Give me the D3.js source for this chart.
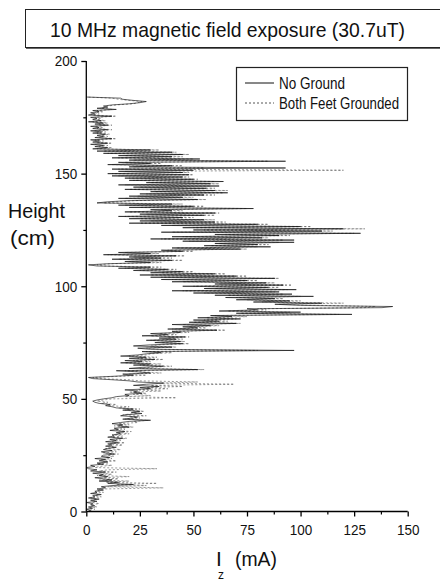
<!DOCTYPE html>
<html>
<head>
<meta charset="utf-8">
<script src="https://cdn.jsdelivr.net/npm/d3@7/dist/d3.min.js"></script>
<style>
  html, body { margin: 0; padding: 0; background: #fff; }
  svg { display: block; }
  text { font-family: "Liberation Sans", Arial, sans-serif; fill: #111; }
</style>
</head>
<body>
<svg id="chart" width="440" height="582"></svg>
<script>
// ---------------- DATA ----------------
const title = "10 MHz magnetic field exposure (30.7uT)";
const seriesNames = ["No Ground", "Both Feet Grounded"];
const xTicks = [0, 25, 50, 75, 100, 125, 150];
const yTicks = [0, 50, 100, 150, 200];
// heights sampled every 0.5 cm from 0 to 184 cm
const heights = d3.range(0, 184.25, 0.5);
// Current Iz (mA) – No Ground (solid)
const noGround = [
  1,2,0,3,1,4,2,3,0,5,
  2,6,1,4,3,7,2,5,4,8,
  5,9,7,12,22,10,15,6,12,8,
  4,10,6,8,3,9,2,5,1,0,
  4,2,8,5,10,6,9,4,11,7,
  8,13,9,7,12,8,10,14,9,12,
  10,15,9,14,11,17,10,13,12,16,
  14,18,11,15,13,20,15,17,12,16,
  20,30,17,22,24,16,19,26,21,25,
  17,22,14,12,9,11,6,4,3,5,
  8,12,14,20,18,26,22,24,18,30,
  25,34,22,28,36,24,20,12,3,1,
  12,22,17,30,24,14,52,20,26,36,
  22,30,16,26,18,32,20,28,16,24,
  28,35,26,97,30,24,40,22,30,45,
  32,44,28,42,34,46,26,38,30,44,
  40,61,38,52,45,58,40,70,48,62,
  50,72,52,68,58,124,70,100,62,80,
  75,138,143,100,88,110,78,95,70,88,
  65,106,60,96,50,90,40,98,55,85,
  45,92,60,84,40,75,35,88,30,70,
  25,60,30,45,22,38,15,30,5,1,
  10,30,18,40,12,35,20,42,8,30,
  15,45,35,72,40,86,55,80,60,97,
  45,97,30,82,40,90,60,128,35,110,
  50,120,45,100,35,80,20,60,25,55,
  20,45,15,55,25,60,18,40,30,78,
  20,50,15,40,5,10,20,52,15,45,
  20,55,25,66,30,60,18,56,22,62,
  15,58,28,64,20,50,18,45,12,48,
  10,45,15,50,12,93,20,40,10,30,
  15,93,20,53,12,40,15,45,8,40,
  5,30,3,10,4,8,2,10,3,6,
  2,12,4,8,5,9,3,7,2,10,
  3,6,2,10,4,8,1,7,3,5,
  2,12,1,4,2,6,3,14,5,10,
  8,12,20,25,28,22,17,16,0
];
// Current Iz (mA) – Both Feet Grounded (dashed)
const bothFeet = [
  2,1,4,2,5,3,2,6,3,4,
  3,5,2,7,4,6,3,8,5,6,
  8,36,10,28,14,33,9,20,6,15,
  8,20,5,12,8,14,6,10,33,4,
  6,12,5,10,8,14,7,12,9,13,
  10,15,8,14,11,16,9,13,12,17,
  11,18,12,16,14,19,12,17,13,20,
  15,21,14,18,16,22,13,20,15,24,
  22,29,18,25,20,28,17,24,22,27,
  18,25,15,20,10,14,7,10,5,8,
  12,42,18,30,22,28,20,35,24,38,
  28,45,30,69,35,52,25,20,6,3,
  15,28,20,35,26,18,55,25,30,40,
  25,35,18,30,22,36,24,33,20,28,
  30,40,28,80,35,28,42,30,35,48,
  35,46,30,45,38,48,30,42,34,48,
  42,65,40,56,48,62,45,72,50,66,
  55,70,56,75,60,118,72,95,66,84,
  80,130,135,110,90,120,82,100,75,92,
  70,100,66,92,55,88,45,94,60,90,
  50,96,62,88,45,80,40,90,35,75,
  30,65,35,50,25,42,18,35,8,5,
  12,35,20,45,15,40,22,46,10,34,
  18,50,38,75,42,80,58,85,62,90,
  48,92,35,85,45,95,65,125,40,115,
  55,130,50,105,40,85,25,65,30,60,
  25,50,18,60,28,62,20,45,35,75,
  25,55,18,45,8,15,22,56,18,50,
  24,60,28,64,32,66,20,60,25,58,
  18,62,30,60,22,52,20,48,15,50,
  12,48,18,120,15,55,22,45,12,35,
  18,85,22,50,15,45,18,48,10,42,
  8,34,5,12,6,10,4,12,5,8,
  4,14,6,10,7,11,5,9,4,12,
  5,8,4,12,6,10,3,9,5,7,
  4,14,3,6,4,8,5,12,7,9,
  10,14,22,24,26,20,15,12,0
];

// ---------------- LAYOUT ----------------
const svg = d3.select("#chart");
const x = d3.scaleLinear().domain([0, 150]).range([86.3, 407.7]);
const y = d3.scaleLinear().domain([0, 200]).range([511.5, 61]);

// title box
svg.append("rect").attr("x", 25.5).attr("y", 9.5).attr("width", 430).attr("height", 38)
  .attr("fill", "#fff").attr("stroke", "#222").attr("stroke-width", 1);
svg.append("line").attr("x1", 26).attr("x2", 440).attr("y1", 48.5).attr("y2", 48.5)
  .attr("stroke", "#666").attr("stroke-width", 1);
svg.append("text").attr("x", 50).attr("y", 37)
  .attr("font-size", 21).attr("textLength", 355).attr("lengthAdjust", "spacingAndGlyphs").text(title);

// series
const line = (vals) => d3.line()
  .x((d, i) => x(vals[i]))
  .y((d, i) => y(heights[i]))(heights);

svg.append("path").attr("d", line(bothFeet))
  .attr("fill", "none").attr("stroke", "#555").attr("stroke-width", 0.6)
  .attr("stroke-dasharray", "2,2");
svg.append("path").attr("d", line(noGround))
  .attr("fill", "none").attr("stroke", "#111").attr("stroke-width", 0.65);

// axes
const yAxis = d3.axisLeft(y).tickValues(yTicks).tickSize(5).tickPadding(4).tickFormat(d3.format("d"));
const gy = svg.append("g").attr("transform", `translate(${x(0)},0)`).call(yAxis);
gy.select(".domain").attr("stroke", "#000").attr("stroke-width", 1.3).attr("d", `M0,${y(0)}V${y(200)}`);
gy.selectAll(".tick line").attr("stroke", "#000").attr("stroke-width", 1.3);
gy.selectAll(".tick text").attr("font-size", 15).attr("font-family", null).attr("fill", "#111")
  .attr("transform", "scale(0.9,1)").attr("x", -9 / 0.9);
const yMinor = d3.axisLeft(y).tickValues([25, 75, 125, 175]).tickSize(3).tickFormat("");
const gym = svg.append("g").attr("transform", `translate(${x(0)},0)`).call(yMinor);
gym.select(".domain").remove();
gym.selectAll(".tick line").attr("stroke", "#000").attr("stroke-width", 1.2);

const xAxis = d3.axisBottom(x).tickValues(xTicks).tickSize(5).tickPadding(8).tickFormat(d3.format("d"));
const gx = svg.append("g").attr("transform", `translate(0,${y(0)})`).call(xAxis);
gx.select(".domain").attr("stroke", "#000").attr("stroke-width", 1.3).attr("d", `M${x(0)},0H${x(150)}`);
gx.selectAll(".tick line").attr("stroke", "#000").attr("stroke-width", 1.3);
gx.selectAll(".tick text").attr("font-size", 15).attr("font-family", null).attr("fill", "#111")
  .each(function(d) {
    const t = d3.select(this);
    const w = String(d).length * 7.5;
    t.attr("textLength", w).attr("lengthAdjust", "spacingAndGlyphs");
  });
const xMinor = d3.axisBottom(x).tickValues([12.5, 37.5, 62.5, 87.5, 112.5, 137.5]).tickSize(3).tickFormat("");
const gxm = svg.append("g").attr("transform", `translate(0,${y(0)})`).call(xMinor);
gxm.select(".domain").remove();
gxm.selectAll(".tick line").attr("stroke", "#000").attr("stroke-width", 1.2);

// axis titles
svg.append("text").attr("x", 8).attr("y", 218).attr("font-size", 21)
  .attr("textLength", 57).attr("lengthAdjust", "spacingAndGlyphs").text("Height");
svg.append("text").attr("x", 10).attr("y", 245).attr("font-size", 21)
  .attr("textLength", 45).attr("lengthAdjust", "spacingAndGlyphs").text("(cm)");
svg.append("text").attr("x", 216).attr("y", 566).attr("font-size", 21).text("I");
svg.append("text").attr("x", 218).attr("y", 579).attr("font-size", 12).text("z");
svg.append("text").attr("x", 235).attr("y", 566).attr("font-size", 21)
  .attr("textLength", 42).attr("lengthAdjust", "spacingAndGlyphs").text("(mA)");

// legend
const lg = svg.append("g");
lg.append("rect").attr("x", 236.5).attr("y", 67.5).attr("width", 171).attr("height", 53)
  .attr("fill", "#fff").attr("stroke", "#222").attr("stroke-width", 1.2);
const legendRows = [
  { name: seriesNames[0], dash: null, color: "#111", w: 66 },
  { name: seriesNames[1], dash: "2,2", color: "#555", w: 120 }
];
legendRows.forEach((r, i) => {
  const yy = 83 + i * 20;
  lg.append("line").attr("x1", 245).attr("x2", 274).attr("y1", yy).attr("y2", yy)
    .attr("stroke", r.color).attr("stroke-width", 1).attr("stroke-dasharray", r.dash);
  lg.append("text").attr("x", 279).attr("y", yy + 5.5).attr("font-size", 16)
    .attr("textLength", r.w).attr("lengthAdjust", "spacingAndGlyphs").text(r.name);
});
</script>
</body>
</html>
